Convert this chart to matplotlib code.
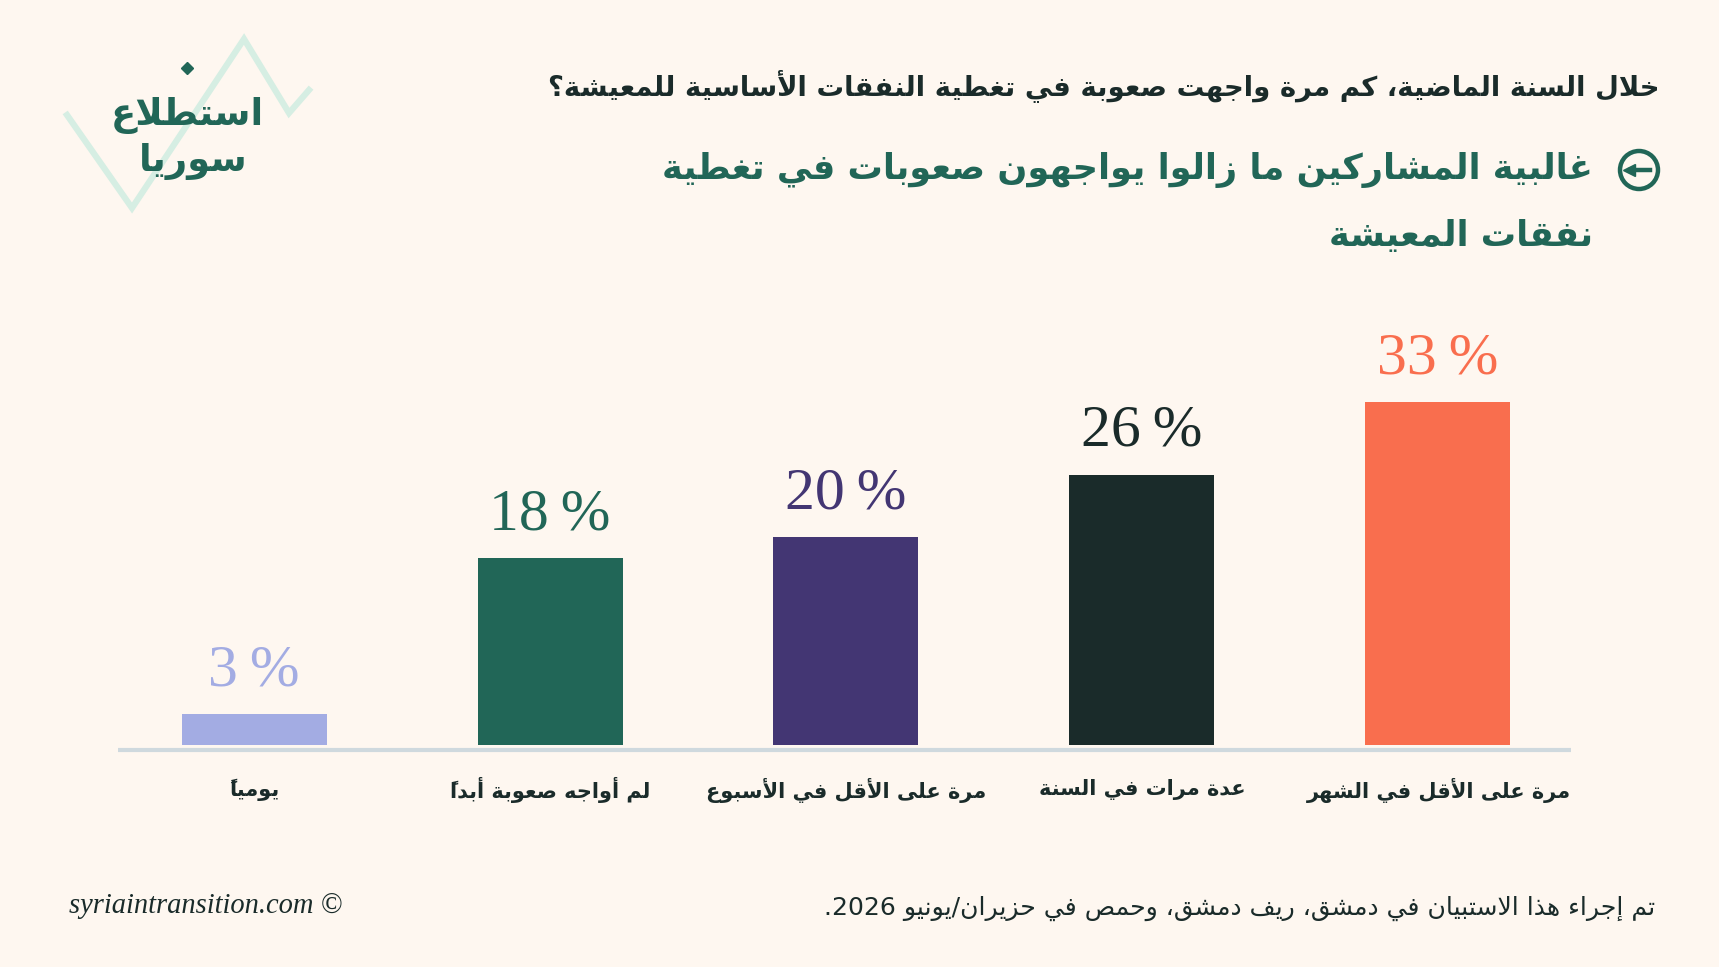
import matplotlib.pyplot as plt

# Données du graphique (de gauche à droite)
categories = [
    "يومياً",
    "لم أواجه صعوبة أبداً",
    "مرة على الأقل في الأسبوع",
    "عدة مرات في السنة",
    "مرة على الأقل في الشهر",
]
values = [3, 18, 20, 26, 33]
colors = ["#A3ACE3", "#216657", "#433673", "#1A2B2A", "#F96E4E"]

question = "خلال السنة الماضية، كم مرة واجهت صعوبة في تغطية النفقات الأساسية للمعيشة؟"
headline_1 = "غالبية المشاركين ما زالوا يواجهون صعوبات في تغطية"
headline_2 = "نفقات المعيشة"
logo_1 = "استطلاع"
logo_2 = "سوريا"
footnote = "تم إجراء هذا الاستبيان في دمشق، ريف دمشق، وحمص في حزيران/يونيو 2026."
credit = "syriaintransition.com ©"

BG = "#FEF7F0"
GREEN = "#216657"
DARK = "#1A2B2A"

# Mise en forme arabe (matplotlib ne fait pas le shaping ni le bidi)
DUAL = {"ئ": 0xFE89, "ب": 0xFE8F, "ت": 0xFE95, "ث": 0xFE99, "ج": 0xFE9D,
        "ح": 0xFEA1, "خ": 0xFEA5, "س": 0xFEB1, "ش": 0xFEB5, "ص": 0xFEB9,
        "ض": 0xFEBD, "ط": 0xFEC1, "ظ": 0xFEC5, "ع": 0xFEC9, "غ": 0xFECD,
        "ف": 0xFED1, "ق": 0xFED5, "ك": 0xFED9, "ل": 0xFEDD, "م": 0xFEE1,
        "ن": 0xFEE5, "ه": 0xFEE9, "ي": 0xFEF1}
RIGHT = {"آ": 0xFE81, "أ": 0xFE83, "ؤ": 0xFE85, "إ": 0xFE87, "ا": 0xFE8D,
         "ة": 0xFE93, "د": 0xFEA9, "ذ": 0xFEAB, "ر": 0xFEAD, "ز": 0xFEAF,
         "و": 0xFEED, "ى": 0xFEEF}
LAMALEF = {"آ": 0xFEF5, "أ": 0xFEF7, "إ": 0xFEF9, "ا": 0xFEFB}
MARKS = set(chr(c) for c in range(0x064B, 0x0653)) | {"\u0670"}


def ar(s):
    toks = []  # [base, kind, marks]
    i = 0
    while i < len(s):
        c = s[i]
        if c in MARKS and toks:
            toks[-1][2] += c
        elif c == "ل" and i + 1 < len(s) and s[i + 1] in LAMALEF:
            toks.append([LAMALEF[s[i + 1]], "R", ""])
            i += 1
        elif c in DUAL:
            toks.append([DUAL[c], "D", ""])
        elif c in RIGHT:
            toks.append([RIGHT[c], "R", ""])
        elif c == "ء":
            toks.append([0xFE80, "U", ""])
        else:
            toks.append([c, "N", ""])
        i += 1
    glyphs = []
    for k, (b, kind, m) in enumerate(toks):
        if kind in "DR":
            jp = k > 0 and toks[k - 1][1] == "D"
            jn = kind == "D" and k + 1 < len(toks) and toks[k + 1][1] in "DR"
            if jp and jn:
                b += 3
            elif jp:
                b += 1
            elif jn:
                b += 2
            b = chr(b)
        elif kind == "U":
            b = chr(b)
        # le signe diacritique passe avant sa lettre (ordre visuel)
        glyphs.append((m + b, b.isascii() and b.isalnum()))
    out, ltr = [], []
    for g, is_l in reversed(glyphs):
        if is_l:
            ltr.insert(0, g)
        else:
            out += ltr
            ltr = []
            out.append(g)
    out += ltr
    return "".join(out)


W, H = 1719, 967
fig = plt.figure(figsize=(W / 100, H / 100), dpi=100, facecolor=BG)

# calque en pixels pour les textes et décorations
ov = fig.add_axes([0, 0, 1, 1])
ov.set_xlim(0, W)
ov.set_ylim(H, 0)
ov.axis("off")
ov.patch.set_alpha(0)

ax = fig.add_axes([118 / W, (H - 745) / H, 1453 / W, 416 / H])
ax.patch.set_alpha(0)
x = list(range(len(values)))
ax.bar(x, values, width=0.49, color=colors)
for xi, v, c in zip(x, values, colors):
    ax.text(xi, v + 2.75, f"{v}\u2009%", ha="center", va="baseline", color=c,
            fontsize=43, family="Liberation Serif")
ax.set_xlim(-0.46, 4.45)
ax.set_ylim(0, 40)
ax.axis("off")

# ligne de base
ov.plot([118, 1571], [750, 750], color="#CFD9DE", lw=3, solid_capstyle="butt")

r = fig.canvas.get_renderer()


def fit(t, width):
    w = t.get_window_extent(r).width
    t.set_fontsize(t.get_fontsize() * width / w)


# étiquettes des catégories
cx = [254, 550, 846, 1142, 1439]
for xc, lab in zip(cx, categories):
    ov.text(xc, 790, ar(lab), ha="center", va="center", color=DARK,
            fontsize=15, fontweight="bold", family="DejaVu Sans")

# titre
t = ov.text(1659, 86, ar(question), ha="right", va="center", color=DARK,
            fontsize=18, fontweight="bold", family="DejaVu Sans")
fit(t, 1114)
t = ov.text(1593, 170, ar(headline_1), ha="right", va="center", color=GREEN,
            fontsize=26, fontweight="bold", family="DejaVu Sans")
fit(t, 931)
fs = t.get_fontsize()
ov.text(1593, 236, ar(headline_2), ha="right", va="center", color=GREEN,
        fontsize=fs, fontweight="bold", family="DejaVu Sans")

# icône flèche
ov.add_patch(plt.Circle((1639, 170), 19, fill=False, ec=GREEN, lw=3.2))
ov.plot([1630, 1650], [170, 170], color=GREEN, lw=3.2)
ov.plot([1629], [170], marker="<", color=GREEN, markersize=9)

# logo
ov.plot([67, 132, 244, 289, 309], [115, 208, 39, 113, 90], color="#D6EEE3",
        lw=4.5, solid_joinstyle="miter")
ov.plot([187], [68], marker="D", color=GREEN, markersize=6)
t = ov.text(187, 115, ar(logo_1), ha="center", va="center", color=GREEN,
            fontsize=30, fontweight="bold", family="DejaVu Sans")
fit(t, 153)
ov.text(193, 162, ar(logo_2), ha="center", va="center", color=GREEN,
        fontsize=t.get_fontsize(), fontweight="bold", family="DejaVu Sans")

# pied de page
t = ov.text(1655, 908, ar(footnote), ha="right", va="center", color=DARK,
            fontsize=15, family="DejaVu Sans")
fit(t, 833)
t = ov.text(69, 906, credit, ha="left", va="center", color=DARK,
            fontsize=18, family="Liberation Serif", style="italic")
fit(t, 274)

fig.savefig("out.png", dpi=100, facecolor=BG)
